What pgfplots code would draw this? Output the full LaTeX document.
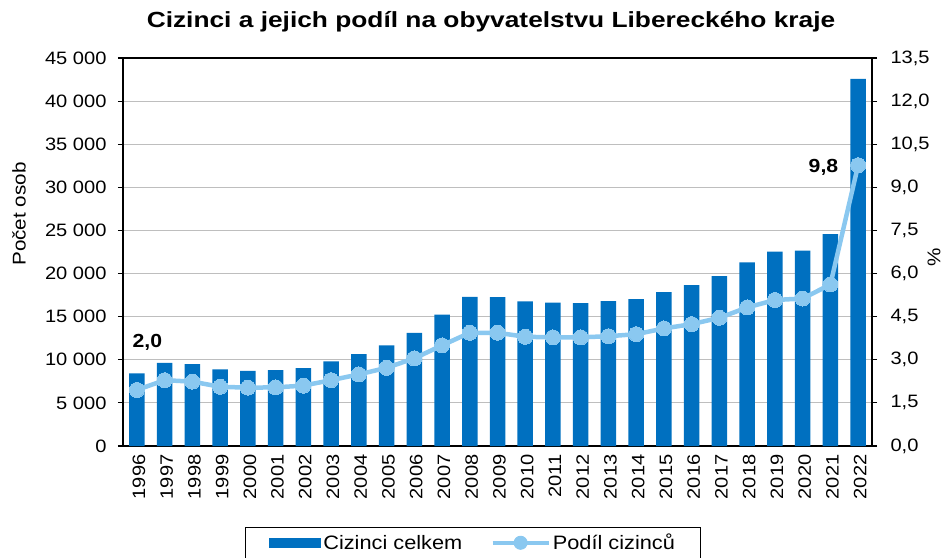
\documentclass[border=0pt]{standalone}
\usepackage{pgfplots}
\pgfplotsset{compat=1.18}
\usepackage{fontspec}
\setmainfont{Liberation Sans}[FakeStretch=1.12]
\newfontfamily\titlefont{Liberation Sans}[FakeStretch=1.2]
\definecolor{barblue}{RGB}{0,112,192}
\definecolor{lineblue}{RGB}{138,200,240}
\definecolor{gridgray}{RGB}{190,190,190}
\begin{document}
\begin{tikzpicture}
\pgfplotsset{
  every axis/.append style={
    scale only axis, width=749bp, height=388bp,
    xmin=-0.5, xmax=26.5,
    tick label style={font=\fontsize{18}{20}\selectfont},
    /pgf/number format/assume math mode=true,
    axis line style={black, line width=1.2pt},
    major tick length=5bp,
    tick style={black, line width=1.2pt},
  }
}
\begin{axis}[
  axis y line*=left,
  axis x line*=box,
  ymin=0, ymax=45000, ytick={0,5000,...,45000},
  yticklabel style={xshift=-8bp, /pgf/number format/.cd, fixed, 1000 sep={\ }},
  scaled y ticks=false,
  ymajorgrids, grid style={gridgray, line width=0.9pt},
  xtick={0,...,26},
  xticklabels={1996,1997,1998,1999,2000,2001,2002,2003,2004,2005,2006,2007,2008,2009,2010,2011,2012,2013,2014,2015,2016,2017,2018,2019,2020,2021,2022},
  xticklabel style={rotate=90, anchor=east, yshift=-2bp},
  xtick style={draw=none},
  extra x ticks={-0.5,0.5,...,26.5},
  extra x tick labels={},
  extra x tick style={tick style={black, line width=1.2pt}, major tick length=5bp, tick align=outside, grid=none},
  tick align=outside,
  legend style={at={(0.4675,-0.208)}, anchor=north, draw=black, line width=1pt,
    legend columns=2, font=\fontsize{19.5}{22}\selectfont,
    /tikz/every even column/.append style={column sep=26bp},
    inner xsep=24bp, inner ysep=5bp},
  legend image code/.code={\fill[barblue] (0bp,-5bp) rectangle (52bp,5bp);},
  bar width=15.5bp,
]
\addplot[ybar, fill=barblue, draw=none] coordinates {
(0,8420) (1,9650) (2,9500) (3,8880) (4,8720) (5,8800) (6,9030) (7,9810) (8,10660) (9,11660) (10,13120) (11,15250) (12,17300) (13,17260) (14,16760) (15,16640) (16,16560) (17,16800) (18,17030) (19,17840) (20,18650) (21,19690) (22,21310) (23,22550) (24,22670) (25,24560) (26,42590)
};
\addlegendentry{Cizinci celkem}
\addlegendimage{legend image code/.code={
  \draw[lineblue, line width=4.5bp] (0bp,0bp) -- (56bp,0bp);
  \fill[lineblue] (28bp,0bp) circle (6.5bp);}}
\addlegendentry{Podíl cizinců}
\end{axis}
\begin{axis}[
  axis y line*=right,
  axis x line=none,
  ymin=0, ymax=13.5, ytick={0,1.5,...,13.5},
  yticklabel style={xshift=10bp, /pgf/number format/.cd, fixed, fixed zerofill, precision=1, use comma},
  tick align=outside,
]
\addplot[lineblue, line width=4.5bp, mark=*, mark size=7.5bp, mark options={fill=lineblue, draw=lineblue, line width=0pt}] coordinates {
(0,1.95) (1,2.29) (2,2.24) (3,2.06) (4,2.03) (5,2.04) (6,2.10) (7,2.29) (8,2.49) (9,2.72) (10,3.05) (11,3.50) (12,3.94) (13,3.94) (14,3.80) (15,3.78) (16,3.78) (17,3.82) (18,3.89) (19,4.09) (20,4.24) (21,4.46) (22,4.82) (23,5.08) (24,5.13) (25,5.62) (26,9.77)
};
\node[font=\bfseries\fontsize{19}{22}\selectfont] at (axis cs:0.38,3.6) {2,0};
\node[font=\bfseries\fontsize{19}{22}\selectfont] at (axis cs:24.75,9.68) {9,8};
\end{axis}
\node[rotate=90, font=\fontsize{18.5}{21}\selectfont] at (-104bp,232bp) {Počet osob};
\node[rotate=90, font=\fontsize{18.5}{21}\selectfont] at (811bp,189bp) {\%};
\node[font=\titlefont\bfseries\fontsize{22}{25}\selectfont] at (368bp,424bp) {Cizinci a jejich podíl na obyvatelstvu Libereckého kraje};
\pgfresetboundingbox
\path[use as bounding box] (-123bp,-112bp) rectangle (822bp,446bp);
\end{tikzpicture}
\end{document}
